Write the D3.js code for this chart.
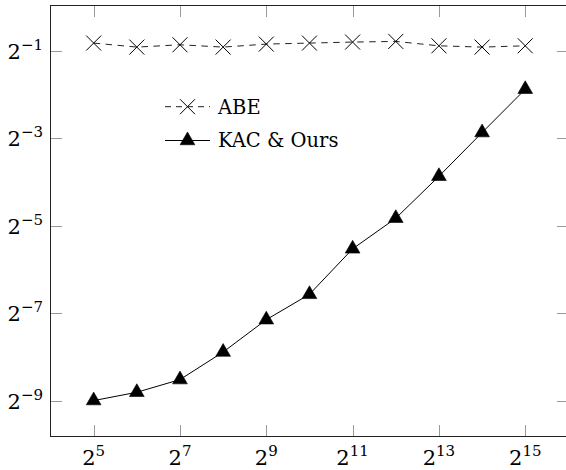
<!DOCTYPE html>
<html>
<head>
<meta charset="utf-8">
<script src="https://cdn.jsdelivr.net/npm/d3@7"></script>
<style>
  html, body { margin: 0; padding: 0; background: #fff; }
  svg { display: block; }
</style>
</head>
<body>
<svg id="chart" width="566" height="470"></svg>
<script>
// ---- data ----
const xValues = [32, 64, 128, 256, 512, 1024, 2048, 4096, 8192, 16384, 32768];
const abeValues = [0.565, 0.530, 0.550, 0.530, 0.556, 0.565, 0.574, 0.580, 0.541, 0.530, 0.541];
const kacValues = [0.001953, 0.002228, 0.002724, 0.004216, 0.007041, 0.010525, 0.021641, 0.035156, 0.068373, 0.136746, 0.271684];
const seriesNames = ["ABE", "KAC & Ours"];
const xTickExps = [5, 7, 9, 11, 13, 15];
const yTickExps = [-1, -3, -5, -7, -9];

// ---- layout ----
const FONT = "'DejaVu Serif', 'Liberation Serif', 'Times New Roman', serif";
const plotL = 50.5, plotR = 568.4, plotT = 5.5, plotB = 436.5;
const svg = d3.select("#chart").attr("font-family", FONT);

// pgfplots-style enlarged limits (10% in log space)
function enlarged(vals) {
  const l = vals.map(v => Math.log2(v));
  const lo = d3.min(l), hi = d3.max(l), pad = (hi - lo) * 0.1;
  return [Math.pow(2, lo - pad), Math.pow(2, hi + pad)];
}
const x = d3.scaleLog().base(2).domain(enlarged(xValues)).range([plotL, plotR]);
const y = d3.scaleLog().base(2).domain(enlarged(abeValues.concat(kacValues))).range([plotB, plotT]);

const xTicks = xTickExps.map(e => Math.pow(2, e));
const yTicks = yTickExps.map(e => Math.pow(2, e));
const tickLen = 11.5;

// ticks (inside, both sides)
const tg = svg.append("g").attr("stroke", "#9a9a9a").attr("stroke-width", 1);
xTicks.forEach(t => {
  const px = Math.round(x(t)) + 0.5;
  tg.append("line").attr("x1", px).attr("x2", px).attr("y1", plotB).attr("y2", plotB - tickLen);
  tg.append("line").attr("x1", px).attr("x2", px).attr("y1", plotT).attr("y2", plotT + tickLen);
});
yTicks.forEach(t => {
  const py = Math.round(y(t)) + 0.5;
  tg.append("line").attr("x1", plotL).attr("x2", plotL + tickLen).attr("y1", py).attr("y2", py);
  tg.append("line").attr("x1", plotR).attr("x2", plotR - tickLen).attr("y1", py).attr("y2", py);
});

// frame
svg.append("rect").attr("x", plotL).attr("y", plotT)
  .attr("width", plotR - plotL).attr("height", plotB - plotT)
  .attr("fill", "none").attr("stroke", "#222").attr("stroke-width", 1);

// tick labels
xTickExps.forEach((e, i) => {
  const t = svg.append("text").attr("x", x(xTicks[i])).attr("y", 465)
    .attr("text-anchor", "middle").attr("font-size", 21).attr("fill", "#000");
  t.append("tspan").text("2");
  t.append("tspan").attr("font-size", 15).attr("dy", -9).text(String(e));
});
yTickExps.forEach((e, i) => {
  const t = svg.append("text").attr("x", 43).attr("y", y(yTicks[i]) + 8)
    .attr("text-anchor", "end").attr("font-size", 21).attr("fill", "#000");
  t.append("tspan").text("2");
  t.append("tspan").attr("font-size", 15).attr("dy", -9).text("\u2212" + String(-e));
});

// series
const abeData = xValues.map((v, i) => [v, abeValues[i]]);
const kacData = xValues.map((v, i) => [v, kacValues[i]]);
const line = d3.line().x(d => x(d[0])).y(d => y(d[1]));

svg.append("path").datum(abeData).attr("d", line)
  .attr("fill", "none").attr("stroke", "#222").attr("stroke-width", 1)
  .attr("stroke-dasharray", "6.5,5.5");
svg.append("path").datum(kacData).attr("d", line)
  .attr("fill", "none").attr("stroke", "#000").attr("stroke-width", 1);

const crossSize = 7.5;
function cross(g, cx, cy) {
  g.append("path")
    .attr("d", `M${cx - crossSize},${cy - crossSize}L${cx + crossSize},${cy + crossSize}M${cx - crossSize},${cy + crossSize}L${cx + crossSize},${cy - crossSize}`)
    .attr("stroke", "#000").attr("stroke-width", 1).attr("fill", "none");
}
const triR = 8.5;
function tri(g, cx, cy) {
  const pts = [90, 210, 330].map(a => {
    const r = a * Math.PI / 180;
    return [cx + triR * Math.cos(r), cy - triR * Math.sin(r)];
  });
  g.append("path").attr("d", "M" + pts.join("L") + "Z").attr("fill", "#000").attr("stroke", "#000").attr("stroke-width", 0.6);
}
const mg = svg.append("g");
abeData.forEach(d => cross(mg, x(d[0]), y(d[1])));
kacData.forEach(d => tri(mg, x(d[0]), y(d[1])));

// legend
const lg = svg.append("g");
const rows = [106.7, 140.5];
// ABE
lg.append("line").attr("x1", 165).attr("x2", 210).attr("y1", rows[0]).attr("y2", rows[0])
  .attr("stroke", "#222").attr("stroke-width", 1).attr("stroke-dasharray", "6,5");
cross(lg, 187.5, rows[0]);
lg.append("text").attr("x", 218).attr("y", rows[0] + 6.8).attr("font-size", 19.5).attr("fill", "#000")
  .text(seriesNames[0]);
// KAC
lg.append("line").attr("x1", 165).attr("x2", 210).attr("y1", rows[1]).attr("y2", rows[1])
  .attr("stroke", "#000").attr("stroke-width", 1);
tri(lg, 187.5, rows[1]);
lg.append("text").attr("x", 218).attr("y", rows[1] + 6.8).attr("font-size", 19.5).attr("fill", "#000")
  .text(seriesNames[1]);
</script>
</body>
</html>
